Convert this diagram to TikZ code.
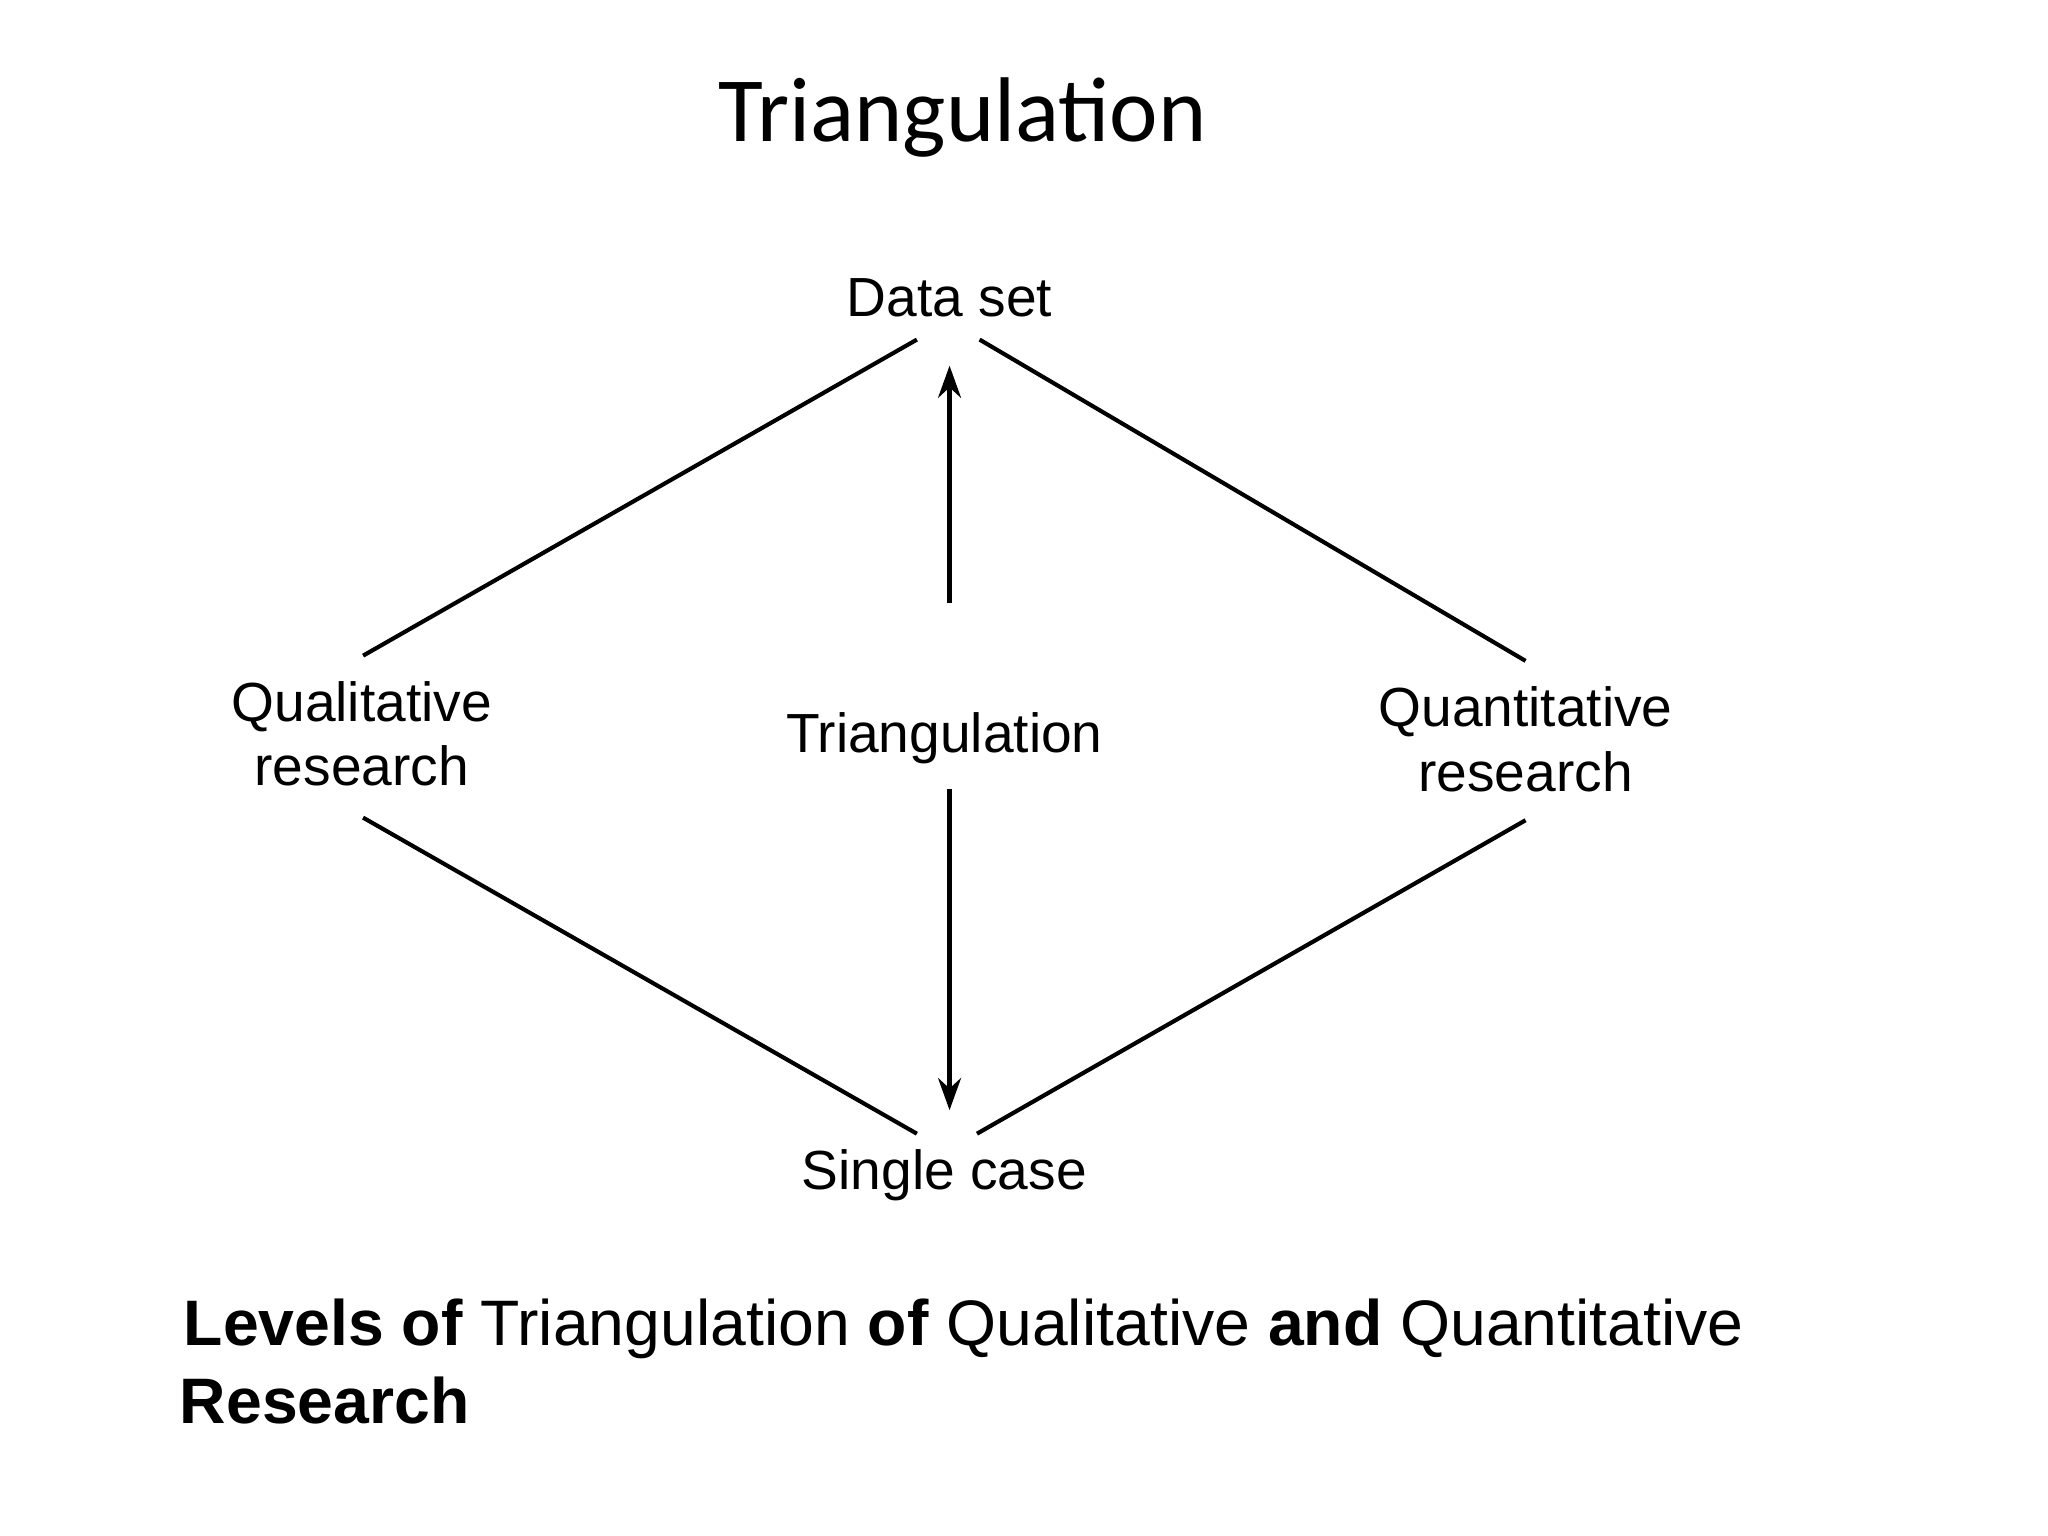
\documentclass[tikz,border=0pt]{standalone}
\usepackage{fontspec}
\setmainfont{Liberation Sans}
\newfontfamily\titlefont{Carlito}
\usetikzlibrary{arrows.meta}
\begin{document}
\begin{tikzpicture}[x=0.01cm,y=-0.01cm,
  lab/.style={font=\fontsize{12}{14}\selectfont, align=center, inner sep=0pt},
  ln/.style={line width=0.9pt},
  arr/.style={line width=0.9pt,-{Stealth[length=7pt,width=5pt]}}]
\useasboundingbox (0,0) rectangle (1568,1176);
\node[font=\titlefont\fontsize{20}{24}\selectfont] (title) at (737,90) {Triangulation};
\node[lab] (ds) at (727,228) {Data set};
\node[lab] (ql) at (277,562) {Qualitative\\research};
\node[lab] (tr) at (723,565) {Triangulation};
\node[lab] (qn) at (1168,566) {Quantitative\\research};
\node[lab] (sc) at (723,900) {Single case};
\coordinate (a1) at (278,502); \coordinate (a2) at (702,260);
\coordinate (b1) at (750,260); \coordinate (b2) at (1168,506);
\coordinate (c1) at (278,626); \coordinate (c2) at (702,868);
\coordinate (d1) at (748,868); \coordinate (d2) at (1168,628);
\coordinate (u1) at (727,462); \coordinate (u2) at (727,280);
\coordinate (v1) at (727,604); \coordinate (v2) at (727,850);
\draw[ln] (a1) -- (a2);
\draw[ln] (b1) -- (b2);
\draw[ln] (c1) -- (c2);
\draw[ln] (d1) -- (d2);
\draw[arr] (u1) -- (u2);
\draw[arr] (v1) -- (v2);
\node[anchor=base west, inner sep=0pt, font=\fontsize{14}{16}\selectfont] (cap1) at (140,1030)
  {\textbf{Levels of} Triangulation \textbf{of} Qualitative \textbf{and} Quantitative};
\node[anchor=base west, inner sep=0pt, font=\fontsize{14}{16}\selectfont] (cap2) at (137,1090)
  {\textbf{Research}};
\end{tikzpicture}
\end{document}
